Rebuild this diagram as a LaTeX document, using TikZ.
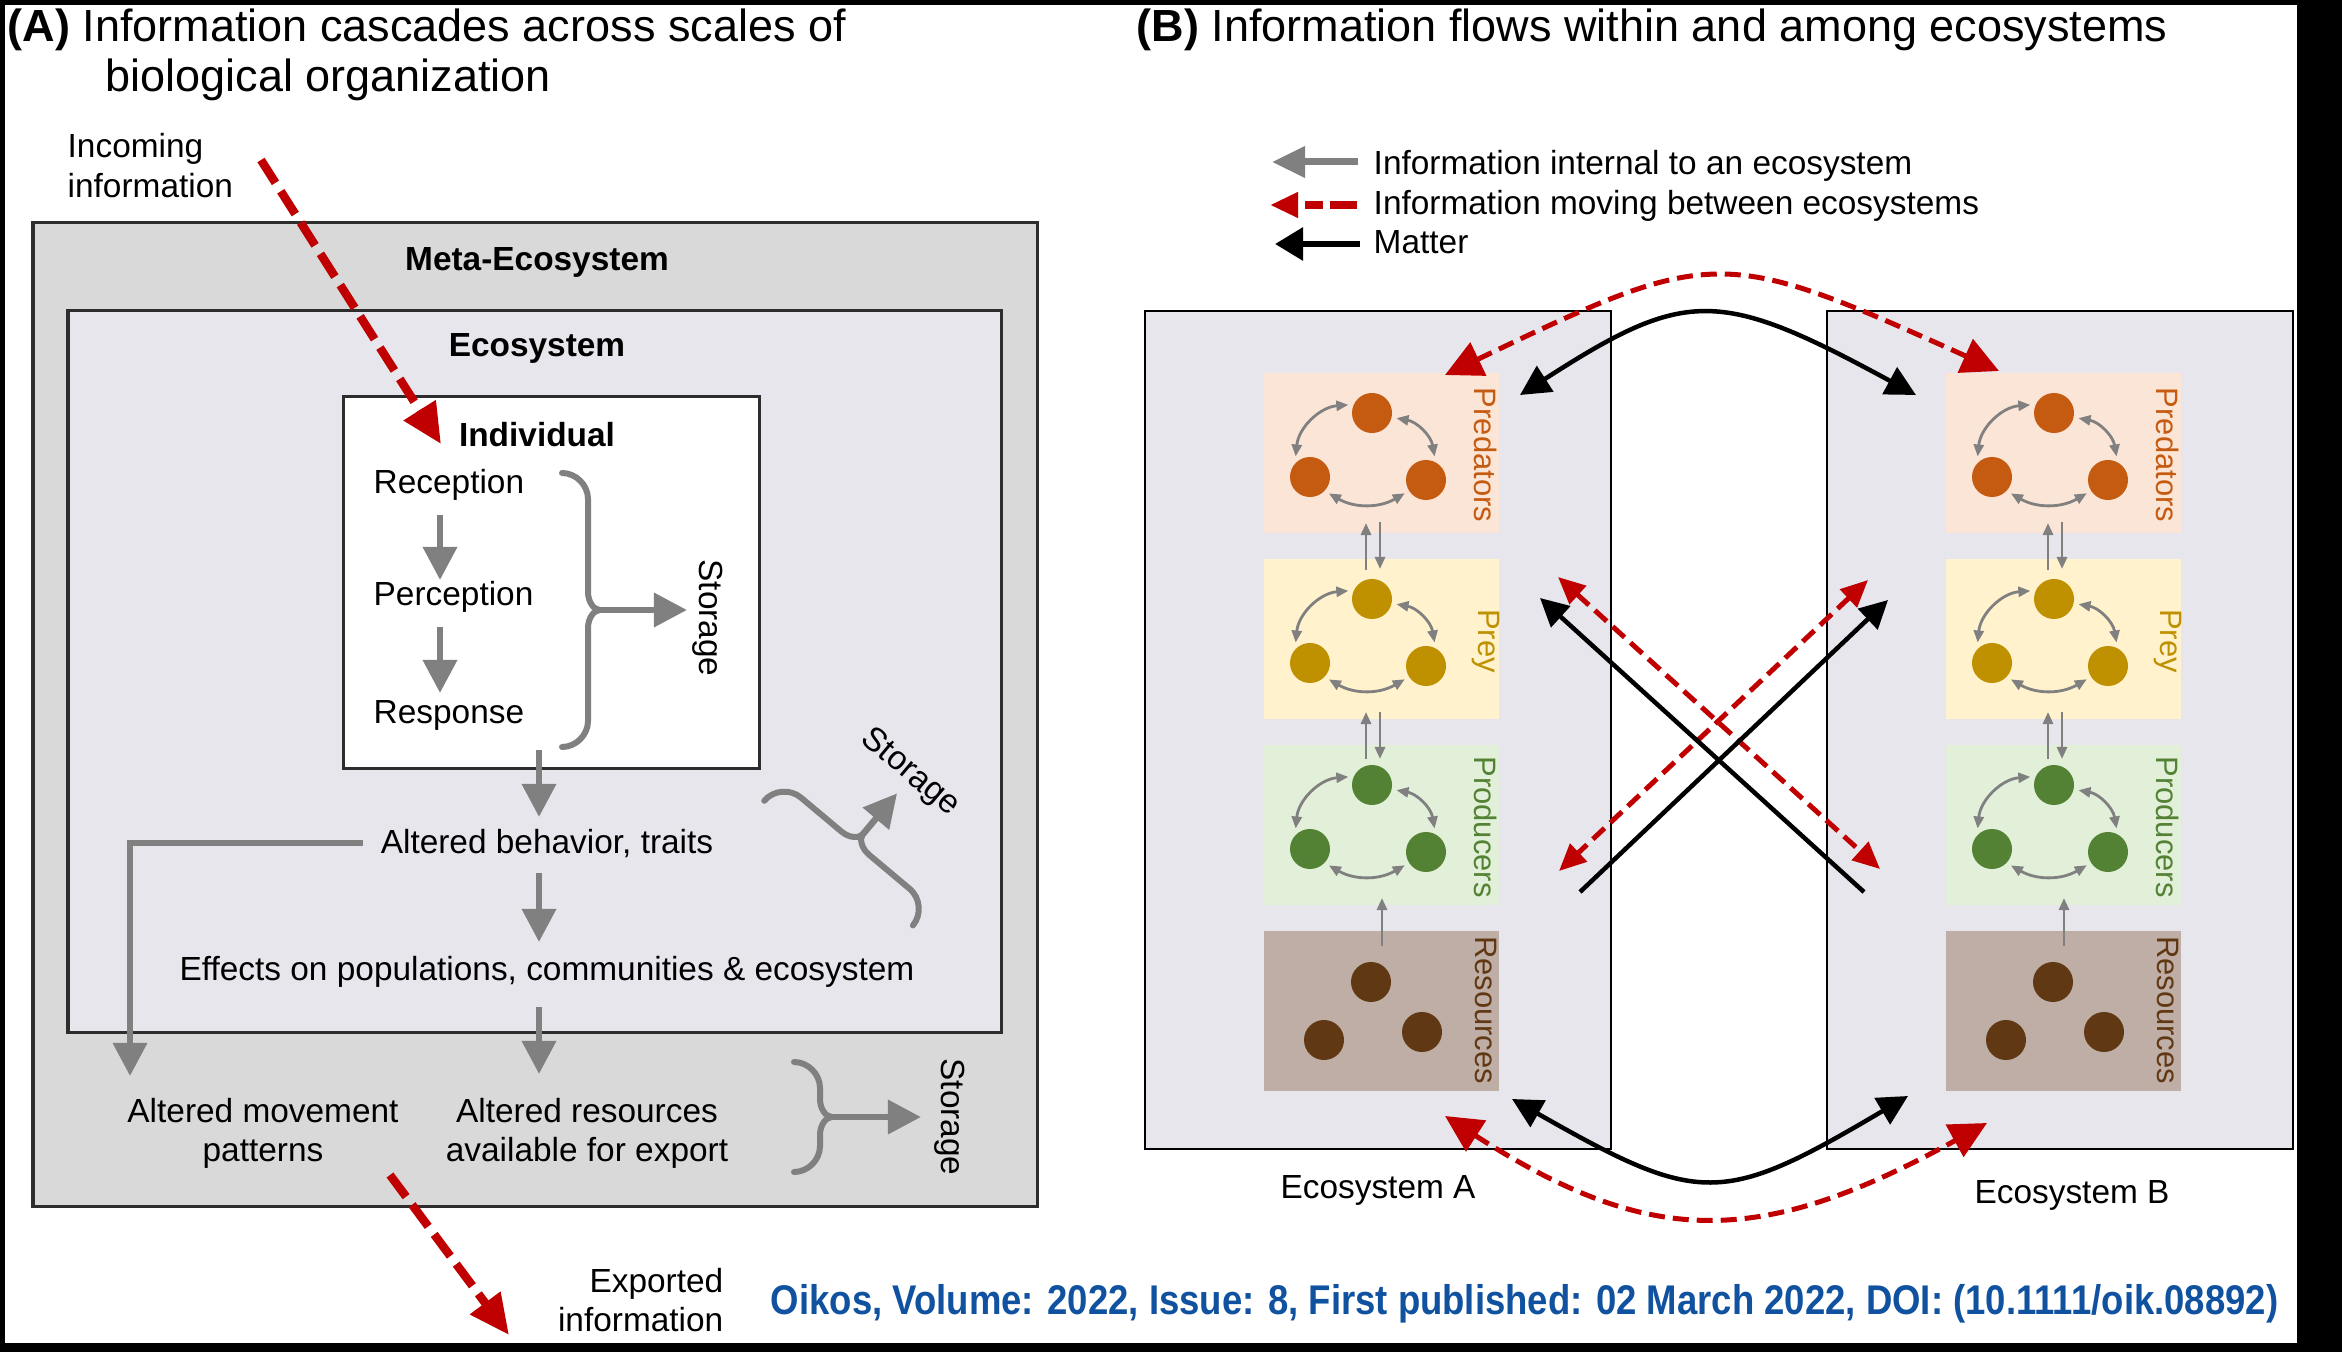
\documentclass[tikz,border=0pt]{standalone}
\usepackage{fontspec}
\setmainfont{Liberation Sans}
\newfontfamily\citefont[FakeStretch=0.88]{Liberation Sans}
\usetikzlibrary{arrows.meta}
\definecolor{redc}{RGB}{192,0,0}
\definecolor{graya}{RGB}{128,128,128}
\definecolor{metaF}{RGB}{217,217,217}
\definecolor{ecoF}{RGB}{232,230,237}
\definecolor{boxD}{RGB}{45,45,45}
\definecolor{predF}{RGB}{251,229,214}
\definecolor{predC}{RGB}{197,90,17}
\definecolor{preyF}{RGB}{255,242,204}
\definecolor{preyC}{RGB}{191,144,0}
\definecolor{prodF}{RGB}{226,240,217}
\definecolor{prodC}{RGB}{84,130,53}
\definecolor{resF}{RGB}{191,174,165}
\definecolor{resC}{RGB}{96,56,19}
\definecolor{citeC}{RGB}{16,82,160}
\tikzset{
  titlef/.style={font=\fontsize{12.8}{15}\selectfont, inner sep=0pt},
  bodyf/.style={font=\fontsize{9.5}{11.1}\selectfont, inner sep=0pt},
  bodyb/.style={font=\fontsize{9.5}{11.1}\selectfont\bfseries, inner sep=0pt},
  labf/.style={font=\fontsize{8.8}{10}\selectfont, inner sep=0pt, rotate=-90},
  metabox/.style={fill=metaF, draw=boxD, line width=0.03cm},
  ecoboxA/.style={fill=ecoF, draw=boxD, line width=0.03cm},
  indbox/.style={fill=white, draw=boxD, line width=0.03cm},
  ecoboxB/.style={fill=ecoF, draw=black, line width=0.022cm},
  grayarr/.style={draw=graya, line width=0.065cm, -{Triangle[length=0.33cm,width=0.33cm]}},
  bracel/.style={draw=graya, line width=0.06cm, line cap=round},
  redA/.style={draw=redc, line width=0.085cm, dash pattern=on 0.27cm off 0.10cm, -{Triangle[length=0.40cm,width=0.36cm]}},
  smallarr/.style={draw=graya, line width=0.028cm, -{Triangle[length=0.12cm,width=0.10cm]}},
  smallbi/.style={draw=graya, line width=0.028cm, {Triangle[length=0.12cm,width=0.10cm]}-{Triangle[length=0.12cm,width=0.10cm]}},
  blkcurve/.style={draw=black, line width=0.045cm, {Triangle[length=0.30cm,width=0.30cm]}-{Triangle[length=0.30cm,width=0.30cm]}},
  redcurve/.style={draw=redc, line width=0.05cm, dash pattern=on 0.16cm off 0.08cm, {Triangle[length=0.37cm,width=0.36cm]}-{Triangle[length=0.37cm,width=0.36cm]}},
  blkx/.style={draw=black, line width=0.045cm, -{Triangle[length=0.28cm,width=0.28cm]}},
  redx/.style={draw=redc, line width=0.05cm, dash pattern=on 0.16cm off 0.08cm, {Triangle[length=0.27cm,width=0.24cm]}-{Triangle[length=0.27cm,width=0.24cm]}},
  webdot/.style={circle, inner sep=0pt, minimum size=0.4cm, outer sep=0.05cm},
}
% brace with arrow: #1 = half height, #2 = arrow length (local coordinates, cusp at origin)
\newcommand\drawstorbrace[2]{%
  \draw[bracel] (-38,-#1) .. controls (-24,-#1) and (-12,-#1+12) .. (-12,-#1+26)
    -- (-12,-18) .. controls (-12,-8) and (-6,0) .. (0,0)
    .. controls (-6,0) and (-12,8) .. (-12,18)
    -- (-12,#1-26) .. controls (-12,#1-12) and (-24,#1) .. (-38,#1);
  \coordinate (bcusp) at (0,0); \coordinate (btip) at (#2,0);
  \draw[grayarr] (bcusp) -- (btip);
}
\begin{document}
\begin{tikzpicture}[x=0.01cm,y=-0.01cm]
\useasboundingbox (0,0) rectangle (2342,1352);
\fill[black] (0,0) rectangle (2342,1352);
\fill[white] (5,5) rectangle (2297,1343);

% ---------------- Panel A ----------------
\node[titlef, anchor=base west] (titA1) at (7,42) {\textbf{(A)} Information cascades across scales of};
\node[titlef, anchor=base west] (titA2) at (105,92) {biological organization};
\node[bodyf, anchor=base west] (incoming) at (67,158) {\begin{tabular}[t]{@{}l@{}}Incoming\\information\end{tabular}};

\draw[metabox] (33,223) rectangle (1037,1206);
\draw[ecoboxA] (68,311) rectangle (1001,1032);
\draw[indbox] (343,397) rectangle (759,768);

\node[bodyb, anchor=base] (meta) at (537,271) {Meta-Ecosystem};
\node[bodyb, anchor=base] (eco) at (537,357) {Ecosystem};
\node[bodyb, anchor=base] (indiv) at (537,447) {Individual};
\node[bodyf, anchor=base west] (rec) at (373,494) {Reception};
\node[bodyf, anchor=base west] (per) at (373,605) {Perception};
\node[bodyf, anchor=base west] (resp) at (373,723) {Response};
\node[bodyf, rotate=-90] (storI) at (708,618) {Storage};
\node[bodyf, anchor=base] (alt) at (547,853) {Altered behavior, traits};
\node[bodyf, anchor=base] (eff) at (547,980) {Effects on populations, communities \& ecosystem};
\node[bodyf, anchor=base] (mov) at (263,1122) {\begin{tabular}[t]{@{}c@{}}Altered movement\\patterns\end{tabular}};
\node[bodyf, anchor=base] (ares) at (587,1122) {\begin{tabular}[t]{@{}c@{}}Altered resources\\available for export\end{tabular}};
\node[bodyf, rotate=-90] (storM) at (950,1117) {Storage};
\node[bodyf, rotate=-40] (storE) at (910,773) {Storage};
\node[bodyf, anchor=base east] (exported) at (724,1292) {\begin{tabular}[t]{@{}r@{}}Exported\\information\end{tabular}};

\begin{scope}[shift={(600,610)}]
  \drawstorbrace{137}{87}
\end{scope}
\begin{scope}[shift={(832,1117)}]
  \drawstorbrace{55}{89}
\end{scope}
\begin{scope}[shift={(863,834)}, rotate=50]
  \drawstorbrace{97}{53}
\end{scope}

\coordinate (g1s) at (440,515); \coordinate (g1e) at (440,580);
\coordinate (g2s) at (440,627); \coordinate (g2e) at (440,693);
\coordinate (g3s) at (539,750); \coordinate (g3e) at (539,817);
\coordinate (g4s) at (539,873); \coordinate (g4e) at (539,942);
\coordinate (g5s) at (539,1007); \coordinate (g5e) at (539,1074);
\coordinate (gLs) at (363,843); \coordinate (gLc) at (130,843); \coordinate (gLe) at (130,1076);
\draw[grayarr] (g1s) -- (g1e);
\draw[grayarr] (g2s) -- (g2e);
\draw[grayarr] (g3s) -- (g3e);
\draw[grayarr] (g4s) -- (g4e);
\draw[grayarr] (g5s) -- (g5e);
\draw[grayarr] (gLs) -- (gLc) -- (gLe);

\coordinate (inS) at (261,160); \coordinate (inE) at (441,444);
\coordinate (exS) at (390,1175); \coordinate (exE) at (509,1335);
\draw[redA] (inS) -- (inE);
\draw[redA] (exS) -- (exE);

% ---------------- Panel B ----------------
\node[titlef, anchor=base west] (titB) at (1136,42) {\textbf{(B)} Information flows within and among ecosystems};
\coordinate (lg1s) at (1358,162); \coordinate (lg1e) at (1272,162);
\coordinate (lg2s) at (1357,205); \coordinate (lg2e) at (1270,205);
\coordinate (lg3s) at (1360,244); \coordinate (lg3e) at (1275,244);
\draw[draw=graya, line width=0.07cm, -{Triangle[length=0.33cm,width=0.30cm]}] (lg1s) -- (lg1e);
\draw[draw=redc, line width=0.08cm, dash pattern=on 0.27cm off 0.07cm on 0.18cm off 0.1cm, -{Triangle[length=0.28cm,width=0.24cm]}] (lg2s) -- (lg2e);
\draw[draw=black, line width=0.06cm, -{Triangle[length=0.28cm,width=0.32cm]}] (lg3s) -- (lg3e);
\node[bodyf, anchor=base west] (lgt1) at (1373,175) {Information internal to an ecosystem};
\node[bodyf, anchor=base west] (lgt2) at (1373,215) {Information moving between ecosystems};
\node[bodyf, anchor=base west] (lgt3) at (1373,254) {Matter};

\foreach \dx/\nm in {0/A,682/B}{
 \begin{scope}[shift={(\dx,0)}]
  \draw[ecoboxB] (1145,311) rectangle (1611,1149);
  \foreach \yy/\fc/\cc/\lab in {373/predF/predC/Predators,559/preyF/preyC/Prey,745/prodF/prodC/Producers}{
    \fill[\fc] (1264,\yy) rectangle (1499,\yy+160);
    \node[webdot, fill=\cc] (\nm\lab T) at (1372,\yy+40) {};
    \node[webdot, fill=\cc] (\nm\lab L) at (1310,\yy+104) {};
    \node[webdot, fill=\cc] (\nm\lab R) at (1426,\yy+107) {};
    \draw[smallbi] (\nm\lab T.161) to[bend right=40] (\nm\lab L.125);
    \draw[smallbi] (\nm\lab T.-12) to[bend left=35] (\nm\lab R.70);
    \draw[smallbi] (\nm\lab L.-41) to[bend right=30] (\nm\lab R.212);
    \node[labf, text=\cc] (\nm\lab N) at (1486,\yy+82) {\lab};
  }
  \fill[resF] (1264,931) rectangle (1499,1091);
  \node[webdot, fill=resC] (\nm ResT) at (1371,982) {};
  \node[webdot, fill=resC] (\nm ResL) at (1324,1040) {};
  \node[webdot, fill=resC] (\nm ResR) at (1422,1032) {};
  \node[labf, text=resC] (\nm ResN) at (1486,1010) {Resources};
  \coordinate (\nm u1s) at (1366,570); \coordinate (\nm u1e) at (1366,523);
  \coordinate (\nm d1s) at (1380,522); \coordinate (\nm d1e) at (1380,569);
  \coordinate (\nm u2s) at (1366,759); \coordinate (\nm u2e) at (1366,712);
  \coordinate (\nm d2s) at (1380,712); \coordinate (\nm d2e) at (1380,759);
  \coordinate (\nm u3s) at (1382,946); \coordinate (\nm u3e) at (1382,898);
  \draw[smallarr] (\nm u1s) -- (\nm u1e);
  \draw[smallarr] (\nm d1s) -- (\nm d1e);
  \draw[smallarr] (\nm u2s) -- (\nm u2e);
  \draw[smallarr] (\nm d2s) -- (\nm d2e);
  \draw[smallarr] (\nm u3s) -- (\nm u3e);
 \end{scope}
}
\node[bodyf, anchor=base] (ecoAlab) at (1378,1198) {Ecosystem A};
\node[bodyf, anchor=base] (ecoBlab) at (2072,1203) {Ecosystem B};

\coordinate (rtA) at (1445,375); \coordinate (rtB) at (1999,371);
\coordinate (btA) at (1520,395); \coordinate (btB) at (1916,395);
\coordinate (bbA) at (1512,1099); \coordinate (bbB) at (1908,1096);
\coordinate (rbA) at (1445,1116); \coordinate (rbB) at (1987,1123);
\draw[redcurve] (rtA) .. controls (1714,246) and (1721,246) .. (rtB);
\draw[blkcurve] (btA) .. controls (1686,288) and (1719,288) .. (btB);
\draw[blkcurve] (bbA) .. controls (1700,1206) and (1722,1206) .. (bbB);
\draw[redcurve] (rbA) .. controls (1650,1248) and (1760,1248) .. (rbB);

\coordinate (x1s) at (1864,892); \coordinate (x1e) at (1540,598);
\coordinate (x2s) at (1580,892); \coordinate (x2e) at (1888,600);
\coordinate (x3a) at (1558,577); \coordinate (x3b) at (1880,869);
\coordinate (x4a) at (1868,580); \coordinate (x4b) at (1559,871);
\draw[redx] (x3a) -- (x3b);
\draw[redx] (x4a) -- (x4b);
\draw[blkx] (x1s) -- (x1e);
\draw[blkx] (x2s) -- (x2e);

\node[font={\citefont\bfseries\fontsize{11.8}{14}\selectfont}, text=citeC, anchor=base east, inner sep=0pt] (cite) at (2279,1314) {Oikos, Volume: 2022, Issue: 8, First published: 02 March 2022, DOI: (10.1111/oik.08892)};
\end{tikzpicture}
\end{document}
